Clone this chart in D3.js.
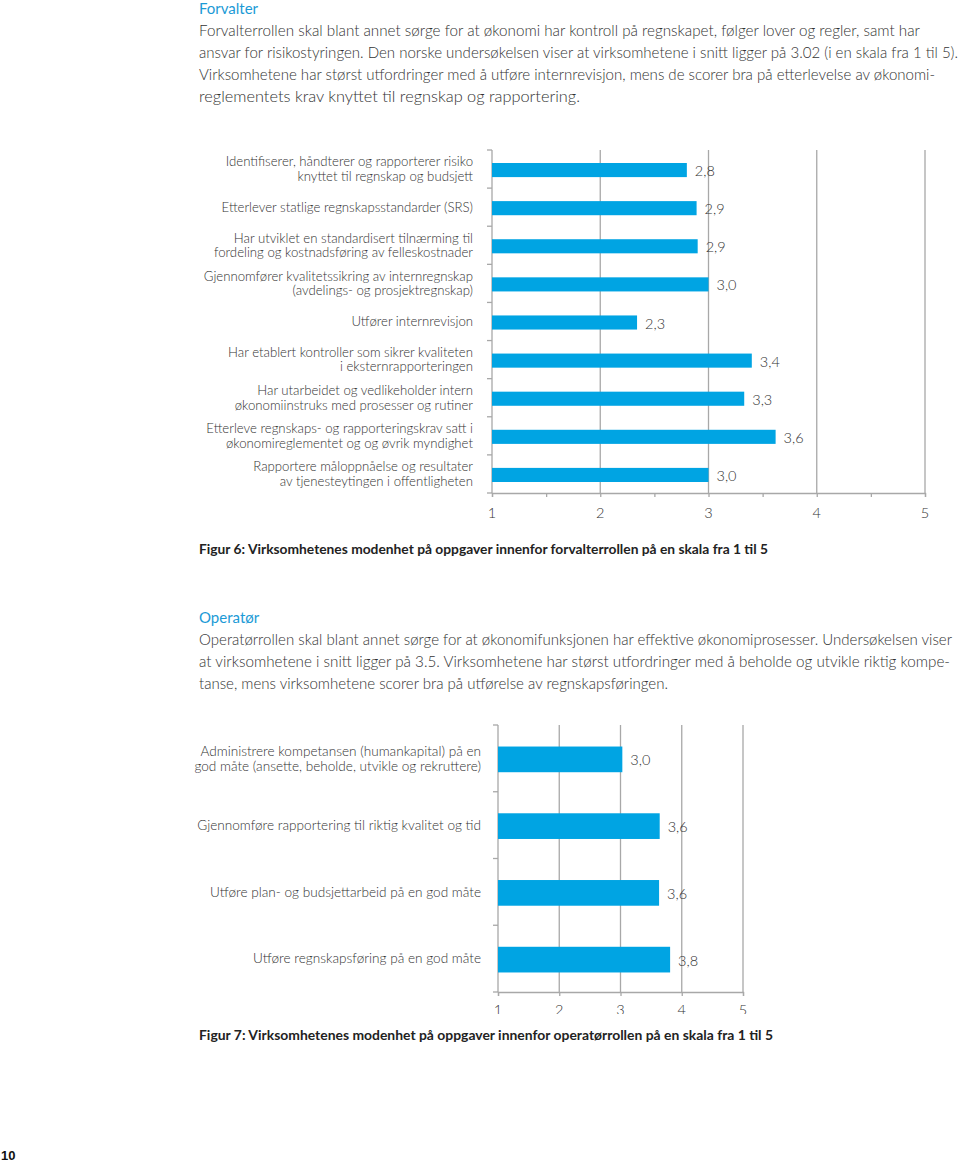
<!DOCTYPE html>
<html>
<head>
<meta charset="utf-8">
<script src="https://cdnjs.cloudflare.com/ajax/libs/d3/7.8.5/d3.min.js"></script>
<style>
  body { margin: 0; background: #fff; }
  svg { display: block; }
  text { font-family: Lato, 'Open Sans', sans-serif; }
</style>
</head>
<body>
<script>
// ---- data ----
const forvalterCategories = [
  ['Identifiserer, håndterer og rapporterer risiko', 'knyttet til regnskap og budsjett'],
  ['Etterlever statlige regnskapsstandarder (SRS)'],
  ['Har utviklet en standardisert tilnærming til', 'fordeling og kostnadsføring av felleskostnader'],
  ['Gjennomfører kvalitetssikring av internregnskap', '(avdelings- og prosjektregnskap)'],
  ['Utfører internrevisjon'],
  ['Har etablert kontroller som sikrer kvaliteten', 'i eksternrapporteringen'],
  ['Har utarbeidet og vedlikeholder intern', 'økonomiinstruks med prosesser og rutiner'],
  ['Etterleve regnskaps- og rapporteringskrav satt i', 'økonomireglementet og og øvrik myndighet'],
  ['Rapportere måloppnåelse og resultater', 'av tjenesteytingen i offentligheten'],
];
const forvalterValues = [2.80, 2.89, 2.90, 3.00, 2.34, 3.40, 3.33, 3.62, 3.00];

const operatorCategories = [
  ['Administrere kompetansen (humankapital) på en', 'god måte (ansette, beholde, utvikle og rekruttere)'],
  ['Gjennomføre rapportering til riktig kvalitet og tid'],
  ['Utføre plan- og budsjettarbeid på en god måte'],
  ['Utføre regnskapsføring på en god måte'],
];
const operatorValues = [3.03, 3.64, 3.63, 3.81];

const scaleTicks = [1, 2, 3, 4, 5];

const forvalterText = [
  'Forvalterrollen skal blant annet sørge for at økonomi har kontroll på regnskapet, følger lover og regler, samt har',
  'ansvar for risikostyringen. Den norske undersøkelsen viser at virksomhetene i snitt ligger på 3.02 (i en skala fra 1 til 5).',
  'Virksomhetene har størst utfordringer med å utføre internrevisjon, mens de scorer bra på etterlevelse av økonomi-',
  'reglementets krav knyttet til regnskap og rapportering.',
];
const operatorText = [
  'Operatørrollen skal blant annet sørge for at økonomifunksjonen har effektive økonomiprosesser. Undersøkelsen viser',
  'at virksomhetene i snitt ligger på 3.5. Virksomhetene har størst utfordringer med å beholde og utvikle riktig kompe-',
  'tanse, mens virksomhetene scorer bra på utførelse av regnskapsføringen.',
];

const BLUE = '#1b9ad6';
const BAR = '#00a4e3';
const TEXT = '#333';
const GRID = '#a8a8a8';

const fmt = v => d3.format('.1f')(v).replace('.', ',');

const svg = d3.select('body')
  .append('svg')
  .attr('width', 960)
  .attr('height', 1163);

svg.append('rect').attr('width', 960).attr('height', 1163).attr('fill', '#fff');

// ---- text blocks ----
function textBlock(title, lines, top, widths) {
  svg.append('text')
    .attr('x', 199).attr('y', top)
    .attr('fill', BLUE)
    .style('font-size', '15px')
    .text(title);
  lines.forEach((l, i) => {
    svg.append('text')
      .attr('x', 199).attr('y', top + 22 * (i + 1))
      .attr('fill', TEXT)
      .style('font-size', '15px')
      .style('font-weight', 300)
      .attr('textLength', widths[i])
      .attr('lengthAdjust', 'spacingAndGlyphs')
      .text(l);
  });
}

textBlock('Forvalter', forvalterText, 14, [721, 759, 736, 381]);
textBlock('Operatør', operatorText, 623, [753, 751, 469]);

function caption(str, y, w) {
  svg.append('text')
    .attr('x', 199).attr('y', y)
    .attr('fill', '#222')
    .style('font-size', '12.5px')
    .style('font-weight', 700)
    .attr('textLength', w)
    .attr('lengthAdjust', 'spacingAndGlyphs')
    .text(str);
}

// ---- bar chart helper ----
function barChart(cfg) {
  const x = d3.scaleLinear().domain([1, 5]).range([cfg.x0, cfg.x1]);
  const y = d3.scaleBand()
    .domain(cfg.categories.map((d, i) => i))
    .range([cfg.y0, cfg.y1]);
  const g = svg.append('g');

  // vertical gridlines
  g.selectAll('.grid')
    .data(scaleTicks.slice(1))
    .enter()
    .append('line')
    .attr('x1', d => x(d)).attr('x2', d => x(d))
    .attr('y1', cfg.y0).attr('y2', cfg.y1)
    .attr('stroke', GRID)
    .attr('stroke-width', 1.3);

  // left axis line + ticks between categories
  g.append('line')
    .attr('x1', x(1)).attr('x2', x(1))
    .attr('y1', cfg.y0).attr('y2', cfg.y1)
    .attr('stroke', GRID).attr('stroke-width', 1.3);
  const bounds = cfg.categories.map((d, i) => y(i)).concat([cfg.y1]);
  g.selectAll('.ytick')
    .data(bounds)
    .enter()
    .append('line')
    .attr('x1', x(1) - 5).attr('x2', x(1))
    .attr('y1', d => d).attr('y2', d => d)
    .attr('stroke', GRID).attr('stroke-width', 1.3);

  // bottom axis
  const axis = d3.axisBottom(x)
    .tickValues(cfg.minorTicks)
    .tickSize(4)
    .tickFormat('');
  const ax = g.append('g')
    .attr('transform', `translate(0,${cfg.y1})`)
    .call(axis);
  ax.select('.domain').attr('stroke', GRID).attr('stroke-width', 1.3);
  ax.selectAll('.tick line').attr('stroke', GRID).attr('stroke-width', 1.3);

  // tick labels
  const lab = g.append('g');
  if (cfg.clipY) {
    svg.append('clipPath').attr('id', 'clip2')
      .append('rect').attr('x', 0).attr('y', 0).attr('width', 960).attr('height', cfg.clipY);
    lab.attr('clip-path', 'url(#clip2)');
  }
  lab.selectAll('text')
    .data(scaleTicks)
    .enter()
    .append('text')
    .attr('x', d => x(d))
    .attr('y', cfg.tickLabelY)
    .attr('text-anchor', 'middle')
    .attr('fill', TEXT)
    .style('font-size', '14.5px')
    .style('font-weight', 300)
    .text(d => d);

  // bars
  const bh = y.bandwidth() * cfg.barRatio;
  g.selectAll('.bar')
    .data(cfg.values)
    .enter()
    .append('rect')
    .attr('x', x(1))
    .attr('y', (d, i) => y(i) + (y.bandwidth() - bh) / 2 + 1)
    .attr('width', d => x(d) - x(1))
    .attr('height', bh)
    .attr('fill', BAR);

  // value labels
  g.selectAll('.val')
    .data(cfg.values)
    .enter()
    .append('text')
    .attr('x', d => x(d) + 8)
    .attr('y', (d, i) => y(i) + y.bandwidth() / 2 + 2)
    .attr('dy', '0.35em')
    .attr('fill', TEXT)
    .style('font-size', '14.5px')
    .style('font-weight', 300)
    .text(d => fmt(d));

  // category labels
  cfg.categories.forEach((lines, i) => {
    const cy = y(i) + y.bandwidth() / 2;
    const t = g.append('text')
      .attr('text-anchor', 'end')
      .attr('fill', TEXT)
      .style('font-size', cfg.labelSize + 'px')
      .style('font-weight', 300);
    lines.forEach((l, j) => {
      t.append('tspan')
        .attr('x', cfg.labelX)
        .attr('y', cy + (j - (lines.length - 1) / 2) * cfg.lineH)
        .attr('dy', '0.35em')
        .text(l);
    });
  });
}

barChart({
  categories: forvalterCategories,
  values: forvalterValues,
  x0: 492, x1: 925, y0: 150, y1: 493,
  minorTicks: d3.range(1, 5.01, 0.5),
  barRatio: 0.37,
  tickLabelY: 518,
  labelX: 473, labelSize: 13.2, lineH: 14.5,
});
caption('Figur 6: Virksomhetenes modenhet på oppgaver innenfor forvalterrollen på en skala fra 1 til 5', 554, 569);

barChart({
  categories: operatorCategories,
  values: operatorValues,
  x0: 498, x1: 743, y0: 725, y1: 992,
  minorTicks: scaleTicks,
  barRatio: 0.385,
  tickLabelY: 1015,
  clipY: 1014,
  labelX: 481, labelSize: 13.6, lineH: 15,
});
caption('Figur 7: Virksomhetenes modenhet på oppgaver innenfor operatørrollen på en skala fra 1 til 5', 1040, 574);

// page number
svg.append('text')
  .attr('x', 1).attr('y', 1160)
  .attr('fill', '#111')
  .style('font-family', "'Liberation Sans', Arial, sans-serif")
  .style('font-size', '13px')
  .style('font-weight', 700)
  .text('10');
</script>
</body>
</html>
